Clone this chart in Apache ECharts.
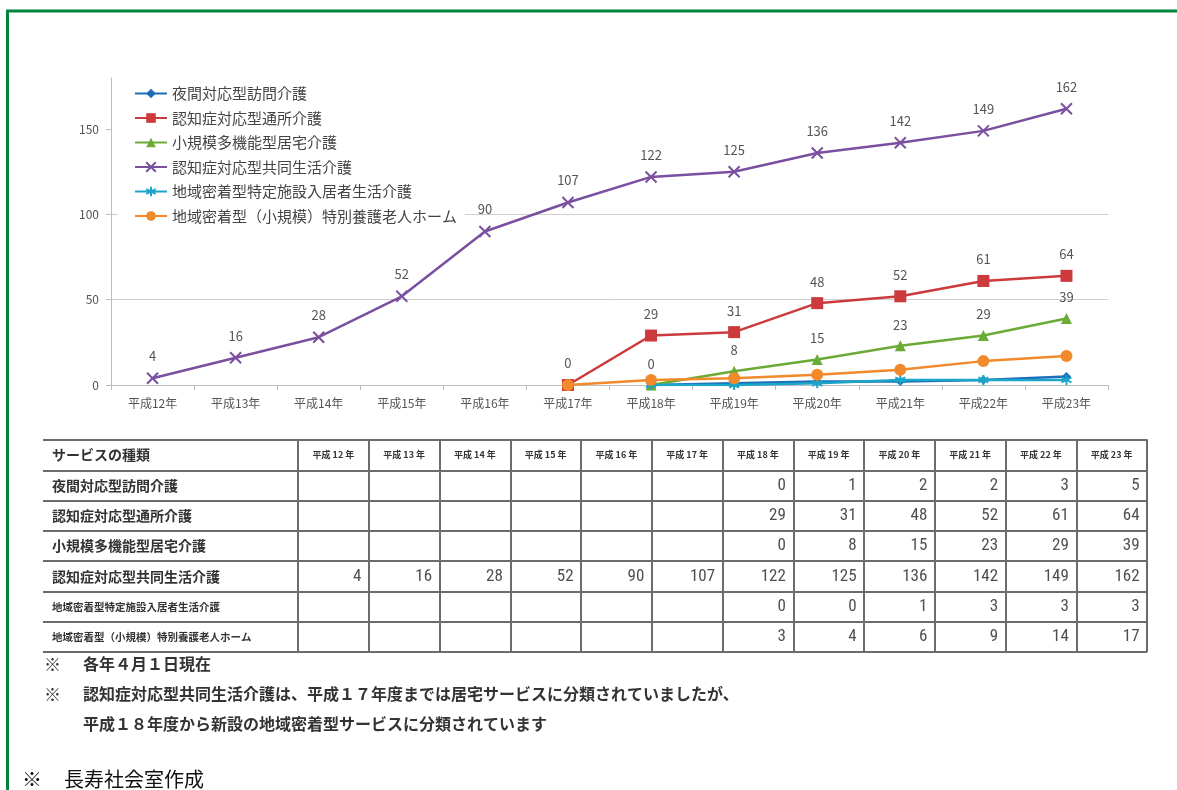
<!DOCTYPE html>
<html>
<head>
<meta charset="utf-8">
<script src="https://cdn.jsdelivr.net/npm/echarts@6/dist/echarts.min.js"></script>
<style>
  html, body { margin: 0; padding: 0; background: #fff; }
  #chart { width: 1177px; height: 790px; }
</style>
</head>
<body>
<div id="chart"></div>
<script>
// 年度（平成12年〜平成23年）
const years = ['平成12年', '平成13年', '平成14年', '平成15年', '平成16年', '平成17年',
               '平成18年', '平成19年', '平成20年', '平成21年', '平成22年', '平成23年'];

// サービスの種類
const services = [
  '夜間対応型訪問介護',
  '認知症対応型通所介護',
  '小規模多機能型居宅介護',
  '認知症対応型共同生活介護',
  '地域密着型特定施設入居者生活介護',
  '地域密着型（小規模）特別養護老人ホーム'
];

// 事業所数（各年4月1日現在）
const nightVisit     = [null, null, null, null, null, null, 0, 1, 2, 2, 3, 5];
const dementiaDay    = [null, null, null, null, null, 0, 29, 31, 48, 52, 61, 64];
const smallMulti     = [null, null, null, null, null, null, 0, 8, 15, 23, 29, 39];
const groupHome      = [4, 16, 28, 52, 90, 107, 122, 125, 136, 142, 149, 162];
const facilityLiving = [null, null, null, null, null, null, 0, 0, 1, 3, 3, 3];
const smallNursing   = [null, null, null, null, null, 0, 3, 4, 6, 9, 14, 17];

const yTicks = [0, 50, 100, 150];
const headerLabel = 'サービスの種類';

// 地域密着型サービスは平成18年度に新設（表ではそれ以前を空欄にする）
const localServiceStart = 6;

const seriesData = [nightVisit, dementiaDay, smallMulti, groupHome, facilityLiving, smallNursing];
const colors = ['#1c6db8', '#cc3a3c', '#6aaa35', '#7a4fa0', '#1aa5c9', '#f08a2a'];

const JP = '"Noto Sans CJK JP", "Noto Sans", sans-serif';
const NARROW = '"Liberation Sans Narrow", "Arial Narrow", "Roboto Condensed", "Liberation Sans", sans-serif';

const xMark = 'path://M0,0L10,10M10,0L0,10';
const starMark = 'path://M5,0L5,10M0,2.5L10,7.5M10,2.5L0,7.5';

const markers = [
  { symbol: 'diamond', size: 9, stroke: false, label: false },
  { symbol: 'rect', size: 12, stroke: false, label: true },
  { symbol: 'triangle', size: 11, stroke: false, label: true },
  { symbol: xMark, size: 11, stroke: true, label: true },
  { symbol: starMark, size: 10, stroke: true, label: false },
  { symbol: 'circle', size: 12, stroke: false, label: false }
];

const lineSeries = services.map((name, i) => ({
  name: name,
  type: 'line',
  xAxisIndex: 0,
  yAxisIndex: 0,
  data: seriesData[i],
  symbol: markers[i].symbol,
  symbolSize: markers[i].size,
  showAllSymbol: true,
  connectNulls: false,
  lineStyle: { color: colors[i], width: 2.5 },
  itemStyle: markers[i].stroke
    ? { color: colors[i], borderColor: colors[i], borderWidth: 2 }
    : { color: colors[i], borderWidth: 0 },
  label: {
    show: markers[i].label,
    position: 'top',
    distance: 9,
    color: '#555',
    fontSize: 13,
    fontFamily: JP
  },
  emphasis: { disabled: true },
  z: 3 + i
}));

// 表の数値
const tableCells = [];
services.forEach((name, r) => {
  seriesData[r].forEach((v, c) => {
    if (v === null) return;
    if (name !== '認知症対応型共同生活介護' && c < localServiceStart) return;
    tableCells.push([c, r + 1, v]);
  });
});

const tableRows = [headerLabel].concat(services);
const tableYears = years.map(y => y.replace(/(\d+)/, ' $1 '));
const tableLine = { color: '#6b6b6b', width: 2 };

const notes = [
  { mark: '※', text: '各年４月１日現在', top: 656 },
  { mark: '※', text: '認知症対応型共同生活介護は、平成１７年度までは居宅サービスに分類されていましたが、', top: 686 },
  { mark: '', text: '平成１８年度から新設の地域密着型サービスに分類されています', top: 716 }
];

const titles = [];
notes.forEach(n => {
  if (n.mark) {
    titles.push({ text: n.mark, left: 44, top: n.top, padding: 0,
      textStyle: { fontFamily: JP, fontSize: 17, fontWeight: 'bold', color: '#333' } });
  }
  titles.push({ text: n.text, left: 83, top: n.top, padding: 0,
    textStyle: { fontFamily: JP, fontSize: 16, fontWeight: 'bold', color: '#333' } });
});
titles.push({ text: '※', left: 22, top: 769, padding: 0,
  textStyle: { fontFamily: JP, fontSize: 20, fontWeight: 'normal', color: '#111' } });
titles.push({ text: '長寿社会室作成', left: 64, top: 769, padding: 0,
  textStyle: { fontFamily: JP, fontSize: 20, fontWeight: 'normal', color: '#111' } });

const chart = echarts.init(document.getElementById('chart'), null, { renderer: 'canvas' });

chart.setOption({
  animation: false,
  backgroundColor: '#fff',
  title: titles,
  graphic: [{
    type: 'polyline',
    silent: true,
    shape: { points: [[7.5, 800], [7.5, 11], [1200, 11]] },
    style: { stroke: '#00843d', lineWidth: 3, fill: null }
  }],
  legend: {
    data: services,
    orient: 'vertical',
    left: 118,
    top: 79,
    padding: [7, 8, 6, 16],
    backgroundColor: '#fff',
    itemWidth: 32,
    itemHeight: 12,
    itemGap: 9.5,
    selectedMode: false,
    textStyle: { fontFamily: JP, fontSize: 15, lineHeight: 15, color: '#444' }
  },
  grid: [
    { left: 111, right: 69, top: 78, bottom: 405, containLabel: false },
    { left: 298, right: 30, top: 440, height: 212, containLabel: false }
  ],
  xAxis: [
    {
      type: 'category',
      gridIndex: 0,
      data: years,
      boundaryGap: true,
      axisLine: { show: true, lineStyle: { color: '#bdbdbd', width: 1 } },
      axisTick: { show: true, length: 5, lineStyle: { color: '#bdbdbd' } },
      axisLabel: { color: '#555', fontSize: 12, fontFamily: JP, margin: 12, interval: 0 },
      splitLine: { show: false }
    },
    {
      type: 'category',
      gridIndex: 1,
      data: tableYears,
      position: 'top',
      boundaryGap: true,
      axisLine: { show: true, lineStyle: tableLine },
      axisTick: { show: false },
      axisLabel: {
        inside: true, margin: 15, verticalAlign: 'middle', interval: 0,
        color: '#333', fontSize: 9, fontWeight: 'bold', fontFamily: JP
      },
      splitLine: { show: true, lineStyle: tableLine }
    }
  ],
  yAxis: [
    {
      type: 'value',
      gridIndex: 0,
      min: 0,
      max: 180,
      interval: 50,
      axisLine: { show: true, lineStyle: { color: '#bdbdbd', width: 1 } },
      axisTick: { show: true, length: 5, customValues: yTicks, lineStyle: { color: '#bdbdbd' } },
      axisLabel: { color: '#555', fontSize: 12, fontFamily: JP, margin: 12, customValues: yTicks },
      splitLine: { show: true, showMaxLine: false, lineStyle: { color: '#cfcfcf', width: 1 } }
    },
    {
      type: 'category',
      gridIndex: 1,
      data: tableRows,
      inverse: true,
      boundaryGap: true,
      axisLine: { show: true, lineStyle: tableLine },
      axisTick: { show: true, length: 255, alignWithLabel: false, lineStyle: tableLine },
      axisLabel: {
        align: 'left',
        margin: 246,
        interval: 0,
        formatter: v => v === headerLabel ? '{h|' + v + '}' : (v.length > 12 ? '{s|' + v + '}' : '{n|' + v + '}'),
        rich: {
          h: { fontFamily: JP, fontSize: 14, fontWeight: 'bold', color: '#333' },
          n: { fontFamily: JP, fontSize: 14, fontWeight: 'bold', color: '#333' },
          s: { fontFamily: JP, fontSize: 10.5, fontWeight: 'bold', color: '#333' }
        }
      },
      splitLine: { show: true, lineStyle: tableLine }
    },
    {
      type: 'category',
      gridIndex: 1,
      data: tableRows,
      inverse: true,
      offset: 255,
      axisLine: { show: true, lineStyle: tableLine },
      axisTick: { show: false },
      axisLabel: { show: false },
      splitLine: { show: false }
    }
  ],
  series: lineSeries.concat([{
    name: '表',
    type: 'scatter',
    xAxisIndex: 1,
    yAxisIndex: 1,
    data: tableCells,
    symbol: 'rect',
    symbolSize: [70, 30],
    itemStyle: { color: 'rgba(0,0,0,0)' },
    silent: true,
    label: {
      show: true,
      position: 'insideRight',
      distance: 7,
      formatter: p => String(p.value[2]),
      fontFamily: NARROW,
      fontSize: 17,
      color: '#222'
    }
  }])
});
</script>
</body>
</html>
